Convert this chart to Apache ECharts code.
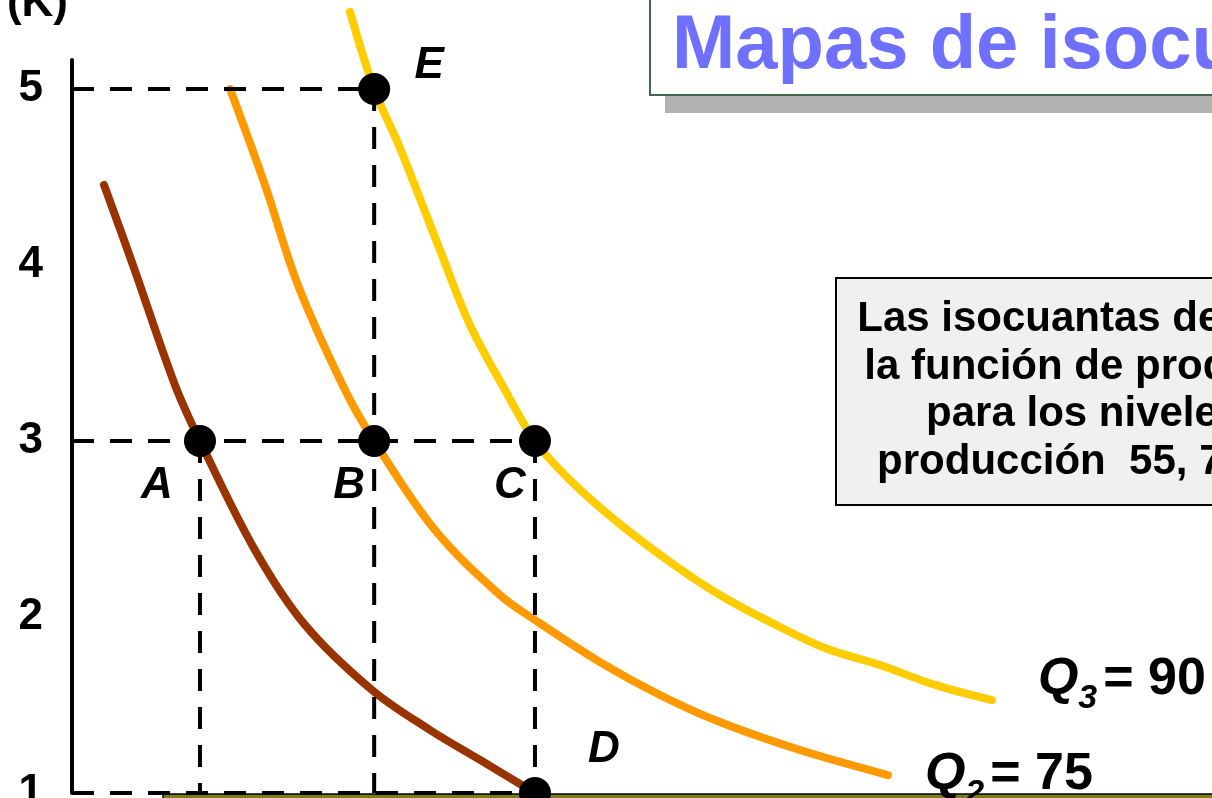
<!DOCTYPE html>
<html><head><meta charset="utf-8">
<script src="https://cdn.jsdelivr.net/npm/echarts/dist/echarts.min.js"></script>
<style>html,body{margin:0;padding:0;background:#fff;overflow:hidden}#c{width:1212px;height:798px}</style>
</head><body><div id="c"></div>
<script>
const FONT = '"Liberation Sans", Arial, Helvetica, sans-serif';

// ---- data (L = labour, K = capital) ----
const yTicks = [1, 2, 3, 4, 5];
const xRange = [0.236, 7.042];
const yRange = [1, 5.165];

const q1Curve = [[0.427,4.455],[0.60,4.0],[0.851,3.318],[1.0,3.0],[1.328,2.381],[1.627,1.955],[2.027,1.585],[2.373,1.358],[2.672,1.188],[3.0,1.0]];
const q2Curve = [[1.18,5.0],[1.388,4.455],[1.585,3.886],[1.866,3.29],[2.04,3.0],[2.403,2.494],[2.791,2.125],[3.0,1.983],[3.388,1.744],[3.746,1.557],[4.104,1.403],[4.582,1.244],[5.107,1.102]];
const q3Curve = [[1.896,5.438],[2.04,5.0],[2.194,4.665],[2.433,4.085],[2.612,3.659],[2.821,3.29],[3.0,3.0],[3.209,2.778],[3.478,2.551],[3.806,2.313],[4.104,2.125],[4.403,1.972],[4.731,1.824],[5.06,1.727],[5.388,1.614],[5.728,1.528]];

const curveNames = ['Q1', 'Q2', 'Q3'];
const curveIndex = ['1', '2', '3'];
const curveOutput = ['55', '75', '90'];

const pointNames = ['A', 'B', 'C', 'D', 'E'];
const pointL = [1, 2.04, 3, 3, 2.04];
const pointK = [3, 3, 3, 1, 5];

const boxLines = ['Las isocuantas describen', 'la función de producción', 'para los niveles de', 'producción  55, 75 y 90.'];
const titleText = 'Mapas de isocuantas';
const axisName = '(K)';

// ---- styles ----
const curveColors = ['#993300', '#FF9900', '#FFCC00'];
const labelOffsets = { A: [-43, 45], B: [-25, 45], C: [-25, 45], D: [69, -43], E: [55, -23] };
const endLabelOffsets = [[0, 0], [37, 5], [46, -15]];

const P = {}; pointNames.forEach((n, i) => P[n] = [pointL[i], pointK[i]]);
const guides = [
  [[xRange[0], P.E[1]], P.E], [[xRange[0], P.C[1]], P.C], [[xRange[0], P.D[1]], P.D],
  [P.A, [P.A[0], 1]], [P.E, [P.E[0], 1]], [P.C, P.D]
];

const curves = [q1Curve, q2Curve, q3Curve];
const series = [];
curves.forEach((c, i) => {
  series.push({
    type: 'line', name: curveNames[i], data: c, smooth: 0.35, showSymbol: false, clip: false,
    lineStyle: { color: curveColors[i], width: 8, cap: 'round', join: 'round' }, z: 2,
    endLabel: i === 0 ? { show: false } : {
      show: true, offset: endLabelOffsets[i], distance: 0,
      formatter: '{q|Q}{s|' + curveIndex[i] + '}{n|= ' + curveOutput[i] + '}',
      rich: {
        q: { fontFamily: FONT, fontSize: 52, fontWeight: 'bold', fontStyle: 'italic', color: '#000', lineHeight: 62, verticalAlign: 'top' },
        s: { fontFamily: FONT, fontSize: 34, fontWeight: 'bold', fontStyle: 'italic', color: '#000', lineHeight: 34, verticalAlign: 'bottom', padding: [0, 6, 0, 0] },
        n: { fontFamily: FONT, fontSize: 52, fontWeight: 'bold', color: '#000', lineHeight: 62, verticalAlign: 'top' }
      }
    }
  });
});
guides.forEach(g => series.push({
  type: 'line', data: g, showSymbol: false, clip: false, silent: true, z: 3,
  lineStyle: { color: '#000', width: 4, type: [22, 16] }
}));
series.push({
  type: 'scatter', symbolSize: 32, z: 5, itemStyle: { color: '#000', opacity: 1 },
  data: pointNames.map((n, i) => ({
    value: [pointL[i], pointK[i]], name: n,
    label: { show: true, formatter: n, position: 'inside', offset: labelOffsets[n], opacity: 1,
      fontFamily: FONT, fontSize: 44, fontWeight: 'bold', fontStyle: 'italic', color: '#000' }
  }))
});

const chart = echarts.init(document.getElementById('c'), null, { renderer: 'canvas' });
chart.setOption({
  animation: false,
  backgroundColor: '#fff',
  grid: { left: 72, right: 0, top: 60, bottom: 5, containLabel: false, outerBoundsMode: 'none' },
  xAxis: { type: 'value', min: xRange[0], max: xRange[1], show: false },
  yAxis: {
    type: 'value', min: yRange[0], max: yRange[1], interval: 1,
    axisLine: { show: true, onZero: false, lineStyle: { color: '#000', width: 4 } },
    axisTick: { show: false }, splitLine: { show: false },
    axisLabel: { margin: 29, fontFamily: FONT, fontSize: 44, fontWeight: 'bold', color: '#000',
      showMaxLabel: true, showMinLabel: true,
      formatter: v => (yTicks.indexOf(Math.round(v * 1000) / 1000) >= 0 ? String(v) : '') }
  },
  series: series,
  graphic: [
    { type: 'rect', shape: { x: 665, y: -40, width: 700, height: 153 }, style: { fill: '#b2b2b2' }, z: 10 },
    { type: 'rect', shape: { x: 650, y: -40, width: 700, height: 135 }, style: { fill: '#fff', stroke: '#3f6b4c', lineWidth: 2 }, z: 11 },
    { type: 'text', x: 672, y: 47, style: { text: titleText, fontFamily: FONT, fontSize: 76, fontWeight: 'bold', fill: '#7070FF', verticalAlign: 'middle' }, z: 12 },
    { type: 'rect', shape: { x: 836, y: 278, width: 556, height: 227 }, style: { fill: '#f0f0f0', stroke: '#000', lineWidth: 2 }, z: 10 },
    { type: 'text', x: 1114, y: 391, style: { text: boxLines.join('\n'), fontFamily: FONT, fontSize: 42, fontWeight: 'bold', fill: '#000', align: 'center', verticalAlign: 'middle', lineHeight: 47.5 }, z: 11 },
    { type: 'text', x: 68, y: 4, style: { text: axisName, fontFamily: FONT, fontSize: 44, fontWeight: 'bold', fill: '#000', align: 'right', verticalAlign: 'middle' }, z: 11 },
    { type: 'rect', shape: { x: 163, y: 794, width: 1060, height: 10 }, style: { fill: '#7d7d1e', stroke: '#000', lineWidth: 1.5 }, z: 1 }
  ]
});
</script></body></html>
